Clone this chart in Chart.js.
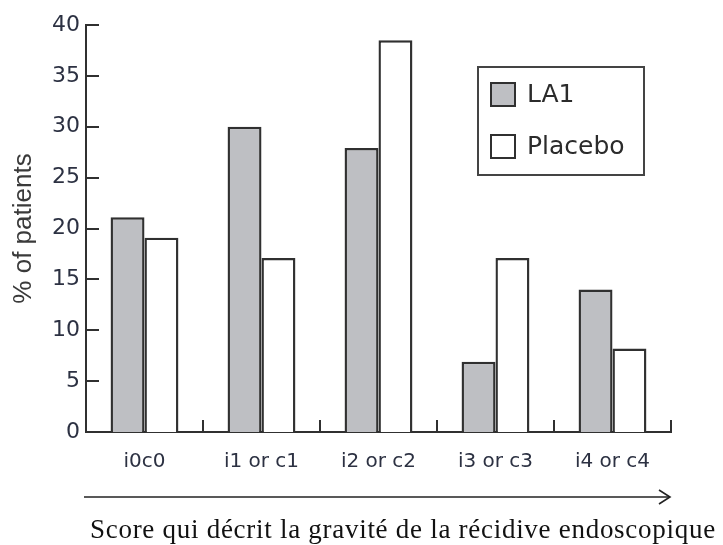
<!DOCTYPE html>
<html>
<head>
<meta charset="utf-8">
<script src="https://cdn.jsdelivr.net/npm/chart.js@4.4.1/dist/chart.umd.min.js"></script>
<style>
  html, body { margin: 0; padding: 0; background: #ffffff; }
  #wrap { width: 723px; height: 545px; }
</style>
</head>
<body>
<div id="wrap"><canvas id="chart" width="723" height="545"></canvas></div>
<script>
// Endoscopic recurrence score categories
const categories = ['i0c0', 'i1 or c1', 'i2 or c2', 'i3 or c3', 'i4 or c4'];
// Percentage of patients per group
const la1Values = [21.1, 30.0, 27.9, 6.9, 14.0];
const placeboValues = [19.1, 17.1, 38.5, 17.1, 8.2];
// Y axis range and step
const yMin = 0;
const yMax = 40;
const yStep = 5;

const seriesNames = ['LA1', 'Placebo'];
const axisTitle = '% of patients';
const scoreCaption = 'Score qui décrit la gravité de la récidive endoscopique';

const INK = '#303030';
const TICK_TEXT = '#2c3142';

// Inward tick marks, legend box, and the score arrow with its caption
const decorations = {
  id: 'decorations',
  afterDraw(chart) {
    const ctx = chart.ctx;
    const xs = chart.scales.x;
    const ys = chart.scales.y;
    const area = chart.chartArea;
    ctx.save();
    ctx.strokeStyle = INK;
    ctx.lineWidth = 2;

    // y ticks pointing into the plot
    ys.ticks.forEach(t => {
      const py = Math.round(ys.getPixelForValue(t.value));
      ctx.beginPath();
      ctx.moveTo(area.left, py);
      ctx.lineTo(area.left + 13, py);
      ctx.stroke();
    });

    // x ticks on category boundaries
    const n = categories.length;
    for (let i = 1; i <= n; i++) {
      const px = Math.round(xs.left + (xs.right - xs.left) * i / n);
      ctx.beginPath();
      ctx.moveTo(px, area.bottom);
      ctx.lineTo(px, area.bottom - 12);
      ctx.stroke();
    }

    // legend box
    const bx = 478, by = 67, bw = 166, bh = 108;
    ctx.strokeStyle = '#444444';
    ctx.strokeRect(bx, by, bw, bh);
    ctx.font = '25px "DejaVu Sans"';
    ctx.textBaseline = 'middle';
    ctx.textAlign = 'left';
    chart.data.datasets.forEach((ds, i) => {
      const sy = 83 + i * 52;
      ctx.fillStyle = ds.backgroundColor;
      ctx.fillRect(491, sy, 24, 23);
      ctx.strokeStyle = INK;
      ctx.strokeRect(491, sy, 24, 23);
      ctx.fillStyle = '#2b2b2b';
      ctx.fillText(ds.label, 527, sy + 12);
    });

    // arrow under the categories
    const ay = 497;
    ctx.strokeStyle = '#222222';
    ctx.lineWidth = 1.6;
    ctx.beginPath();
    ctx.moveTo(84, ay);
    ctx.lineTo(670, ay);
    ctx.stroke();
    ctx.beginPath();
    ctx.moveTo(659, ay - 7);
    ctx.lineTo(670, ay);
    ctx.lineTo(659, ay + 7);
    ctx.stroke();

    // caption
    ctx.fillStyle = '#111111';
    ctx.font = '27px "Liberation Serif"';
    ctx.textBaseline = 'alphabetic';
    ctx.textAlign = 'left';
    ctx.letterSpacing = '0.72px';
    ctx.fillText(scoreCaption, 90, 538);
    ctx.letterSpacing = '0px';
    ctx.restore();
  }
};

new Chart(document.getElementById('chart'), {
  type: 'bar',
  data: {
    labels: categories,
    datasets: [
      {
        label: seriesNames[0],
        data: la1Values,
        backgroundColor: '#bebfc3',
        borderColor: INK,
        borderWidth: 2.4,
        categoryPercentage: 0.58,
        barPercentage: 1.0
      },
      {
        label: seriesNames[1],
        data: placeboValues,
        backgroundColor: '#ffffff',
        borderColor: INK,
        borderWidth: 2.4,
        categoryPercentage: 0.58,
        barPercentage: 1.0
      }
    ]
  },
  options: {
    responsive: false,
    animation: false,
    devicePixelRatio: 1,
    layout: { padding: { left: 0, right: 52, top: 25, bottom: 0 } },
    plugins: {
      legend: { display: false },
      tooltip: { enabled: false }
    },
    scales: {
      x: {
        afterFit: (scale) => { scale.height = 113; },
        grid: { display: false, drawTicks: false },
        border: { display: true, color: INK, width: 2 },
        ticks: {
          color: TICK_TEXT,
          font: { family: 'DejaVu Sans', size: 20 },
          padding: 18,
          maxRotation: 0
        }
      },
      y: {
        min: yMin,
        max: yMax,
        afterFit: (scale) => { scale.width = 86; },
        grid: { display: false, drawTicks: false },
        border: { display: true, color: INK, width: 2 },
        ticks: {
          stepSize: yStep,
          color: TICK_TEXT,
          font: { family: 'DejaVu Sans', size: 22 },
          padding: 6
        },
        title: {
          display: true,
          text: axisTitle,
          color: '#3a3a3a',
          font: { family: 'Liberation Sans', size: 26 },
          padding: { top: 8, bottom: 0 }
        }
      }
    }
  },
  plugins: [decorations]
});
</script>
</body>
</html>
